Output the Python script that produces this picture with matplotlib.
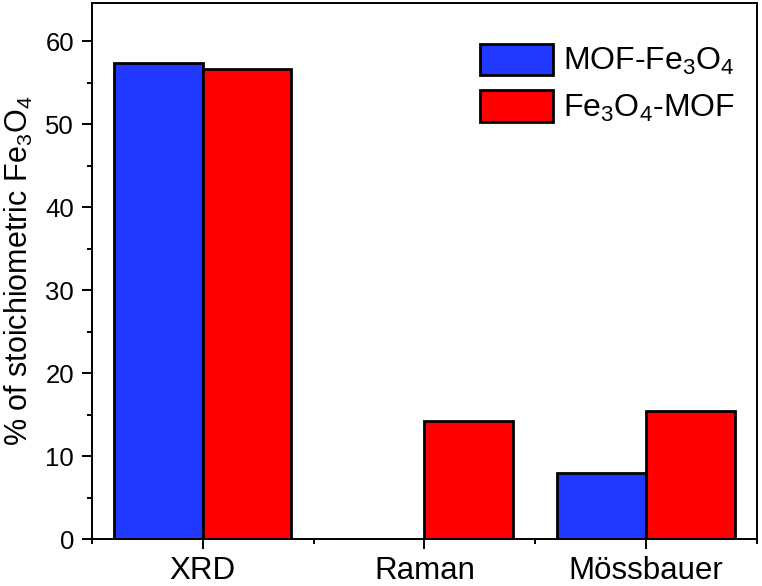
import matplotlib
matplotlib.use("Agg")
import matplotlib.pyplot as plt
import numpy as np
from matplotlib.ticker import MultipleLocator

plt.rcParams["font.family"] = ["Liberation Sans", "DejaVu Sans"]
plt.rcParams["mathtext.default"] = "regular"

# ── Data ──────────────────────────────────────────────────────────────────────
methods = ["XRD", "Raman", "Mössbauer"]
mof_fe3o4 = [57.4, 0.0, 8.0]
fe3o4_mof = [56.7, 14.2, 15.4]
labels = [r"MOF-Fe$_3$O$_4$", r"Fe$_3$O$_4$-MOF"]

BLUE = "#2038FF"
RED = "#FF0000"

fig = plt.figure(figsize=(7.62, 5.86), dpi=100)
ax = fig.add_axes([0.1207, 0.0802, 0.8727, 0.9147])

x = np.arange(1, len(methods) + 1)
w = 0.4
ax.bar(x - w / 2, mof_fe3o4, width=w, color=BLUE, edgecolor="black",
       linewidth=2.0, label=labels[0])
ax.bar(x + w / 2, fe3o4_mof, width=w, color=RED, edgecolor="black",
       linewidth=2.0, label=labels[1])

ax.set_xlim(0.5, 3.5)
ax.set_ylim(0, 64.6)
ax.set_xticks(x)
ax.set_xticklabels(methods, fontsize=22.5)
ax.xaxis.set_minor_locator(MultipleLocator(1, offset=0.5))
ax.yaxis.set_major_locator(MultipleLocator(10))
ax.yaxis.set_minor_locator(MultipleLocator(5))
ax.tick_params(axis="y", which="major", labelsize=18.5, length=7, width=1.4, pad=6)
ax.tick_params(axis="x", which="major", length=7, width=1.4, pad=5)
ax.tick_params(which="minor", length=3.5, width=1.4)
ax.tick_params(right=False, top=False, which="both")

for sp in ax.spines.values():
    sp.set_linewidth(1.4)

ax.set_ylabel(r"% of stoichiometric Fe$_3$O$_4$", fontsize=22, labelpad=7)

ax.legend(loc="upper right", bbox_to_anchor=(1.0, 0.966), frameon=False,
          fontsize=23, handlelength=2.3, handleheight=1.15,
          handletextpad=0.3, labelspacing=0.4, borderaxespad=0.3)

fig.savefig("out.png", dpi=100)
